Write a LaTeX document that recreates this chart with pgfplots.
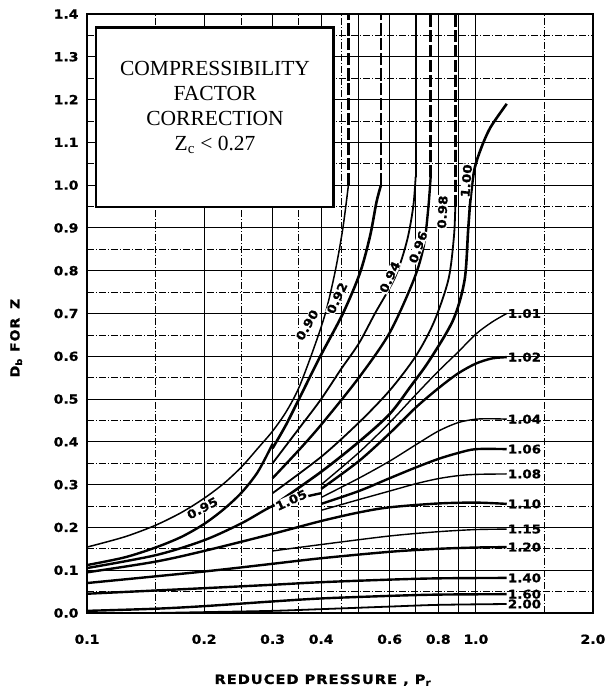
\documentclass[border=0pt]{standalone}
\usepackage{fontspec}
\setmainfont{Liberation Serif}
\newfontfamily\lab[FakeStretch=1.12, FakeBold=1]{DejaVu Sans Bold}
\usepackage{pgfplots}
\pgfplotsset{compat=1.18}
\begin{document}
\begin{tikzpicture}[x=1pt,y=1pt]
\begin{axis}[
  at={(87pt,77pt)}, anchor=south west,
  scale only axis, width=506pt, height=599pt,
  xmode=log, xmin=0.1, xmax=2.0, ymin=0, ymax=1.4,
  xtick={0.1,0.2,0.3,0.4,0.6,0.8,1.0,2.0},
  xticklabels={0.1,0.2,0.3,0.4,0.6,0.8,1.0,2.0},
  minor xtick={0.15,0.25,0.35,0.45,1.5},
  extra x ticks={0.5,0.7,0.9}, extra x tick labels={},
  extra x tick style={grid=major},
  ytick={0,0.1,0.2,0.3,0.4,0.5,0.6,0.7,0.8,0.9,1.0,1.1,1.2,1.3,1.4},
  yticklabels={0.0,0.1,0.2,0.3,0.4,0.5,0.6,0.7,0.8,0.9,1.0,1.1,1.2,1.3,1.4},
  minor ytick={0.05,0.15,0.25,0.35,0.45,0.55,0.65,0.75,0.85,0.95,1.05,1.15,1.25,1.35},
  grid=both,
  major grid style={black, line width=0.9pt},
  minor grid style={black, line width=0.7pt, dash pattern=on 7pt off 2pt on 1pt off 2pt},
  tick style={draw=none},
  axis line style={line width=2.6pt},
  /pgf/number format/assume math mode=true,
  ticklabel style={font=\lab\fontsize{12.5}{13}\selectfont},
  yticklabel style={xshift=-5pt},
  xticklabel style={yshift=-18pt},
  xlabel={REDUCED PRESSURE , P\textsubscript{r}},
  xlabel style={font=\lab\fontsize{13}{13}\selectfont\addfontfeature{LetterSpace=8}, at={(axis description cs:0.466,-0.112)}, anchor=center},
  ylabel={D\textsubscript{b}\hspace{0.5em}FOR\hspace{0.7em}Z},
  ylabel style={font=\lab\fontsize{12.5}{13}\selectfont\addfontfeature{LetterSpace=8}, at={(axis description cs:-0.140,0.459)}, anchor=center, rotate=0},
  every axis plot/.append style={black, smooth, tension=0.5},
]
% ---- low pressure region
\addplot[line width=1.5pt] coordinates {(0.10,0.154) (0.125,0.178) (0.15,0.205) (0.175,0.235) (0.20,0.268) (0.225,0.303) (0.25,0.342) (0.275,0.385) (0.30,0.425) (0.325,0.47) (0.35,0.525) (0.38,0.61) (0.41,0.70) (0.435,0.80) (0.455,0.90) (0.47,1.0)};
\addplot[line width=2.6pt, dash pattern=on 12pt off 3pt] coordinates {(0.47,1.0) (0.47,1.4)};
\addplot[line width=2.4pt] coordinates {(0.10,0.112) (0.125,0.13) (0.15,0.153) (0.175,0.178) (0.20,0.208) (0.225,0.243) (0.25,0.282) (0.275,0.33) (0.30,0.395)};
\addplot[line width=2.4pt] coordinates {(0.10,0.105) (0.15,0.135) (0.20,0.17) (0.25,0.21) (0.30,0.25) (0.35,0.268) (0.40,0.28)};
% ---- subcritical curves
\addplot[line width=2.6pt] coordinates {(0.30,0.385) (0.325,0.44) (0.353,0.505) (0.397,0.598) (0.455,0.70) (0.503,0.794) (0.534,0.88) (0.555,0.96) (0.57,1.0)};
\addplot[line width=2.6pt, dash pattern=on 12pt off 3pt] coordinates {(0.57,1.0) (0.57,1.4)};
\addplot[line width=1.8pt] coordinates {(0.30,0.35) (0.35,0.43) (0.40,0.50) (0.45,0.57) (0.50,0.63) (0.55,0.70) (0.62,0.785) (0.665,0.87) (0.69,0.95) (0.70,1.02)};
\addplot[line width=1.8pt] coordinates {(0.70,1.02) (0.70,1.4)};
\addplot[line width=2.4pt] coordinates {(0.30,0.315) (0.35,0.38) (0.40,0.44) (0.50,0.55) (0.60,0.655) (0.693,0.78) (0.735,0.86) (0.755,0.95) (0.765,1.02)};
\addplot[line width=2.6pt, dash pattern=on 12pt off 3pt] coordinates {(0.765,1.02) (0.765,1.4)};
\addplot[line width=1.8pt] coordinates {(0.30,0.28) (0.40,0.365) (0.50,0.445) (0.60,0.52) (0.70,0.60) (0.78,0.68) (0.85,0.78) (0.878,0.88) (0.885,0.95)};
\addplot[line width=2.6pt, dash pattern=on 12pt off 3pt] coordinates {(0.885,0.95) (0.885,1.4)};
\addplot[line width=2.6pt] coordinates {(0.30,0.25) (0.40,0.33) (0.50,0.40) (0.60,0.465) (0.68,0.53) (0.76,0.591) (0.874,0.685) (0.935,0.778) (0.955,0.895) (0.968,0.965) (0.99,1.035) (1.03,1.085) (1.09,1.135) (1.2,1.19)};
% ---- supercritical curves
\addplot[line width=1.4pt] coordinates {(0.40,0.30) (0.50,0.375) (0.60,0.445) (0.70,0.51) (0.80,0.565) (0.90,0.61) (1.0,0.652) (1.1,0.68) (1.2,0.70)};
\addplot[line width=2.4pt] coordinates {(0.40,0.29) (0.50,0.355) (0.60,0.42) (0.70,0.48) (0.80,0.525) (0.90,0.56) (1.0,0.583) (1.1,0.595) (1.2,0.598)};
\addplot[line width=1.4pt] coordinates {(0.40,0.27) (0.50,0.315) (0.60,0.355) (0.70,0.393) (0.80,0.425) (0.90,0.445) (1.0,0.453) (1.1,0.454) (1.2,0.453)};
\addplot[line width=2.4pt] coordinates {(0.40,0.255) (0.5,0.285) (0.6,0.315) (0.7,0.34) (0.8,0.36) (0.9,0.374) (1.0,0.383) (1.2,0.383)};
\addplot[line width=1.4pt] coordinates {(0.40,0.24) (0.5,0.265) (0.6,0.285) (0.7,0.302) (0.8,0.314) (0.9,0.321) (1.0,0.324) (1.2,0.325)};
\addplot[line width=2.4pt] coordinates {(0.1,0.095) (0.15,0.12) (0.2,0.145) (0.3,0.185) (0.4,0.215) (0.5,0.235) (0.6,0.247) (0.8,0.256) (1.0,0.258) (1.2,0.255)};
\addplot[line width=1.4pt] coordinates {(0.3,0.145) (0.4,0.16) (0.6,0.18) (0.8,0.19) (1.0,0.195) (1.2,0.196)};
\addplot[line width=2.4pt] coordinates {(0.1,0.07) (0.2,0.097) (0.3,0.115) (0.4,0.128) (0.6,0.143) (0.8,0.15) (1.0,0.153) (1.2,0.154)};
\addplot[line width=2.4pt] coordinates {(0.1,0.045) (0.2,0.058) (0.3,0.066) (0.4,0.072) (0.6,0.078) (0.8,0.081) (1.2,0.082)};
\addplot[line width=2.4pt] coordinates {(0.1,0.005) (0.15,0.01) (0.2,0.016) (0.3,0.027) (0.4,0.034) (0.6,0.04) (0.8,0.043) (1.2,0.044)};
\addplot[line width=1.8pt] coordinates {(0.15,0.0) (0.2,0.002) (0.3,0.005) (0.4,0.009) (0.6,0.015) (0.8,0.019) (1.2,0.021)};
% ---- right-hand labels
\begin{scope}[every node/.style={anchor=west, inner sep=1pt, font=\lab\fontsize{12}{12}\selectfont}]
\node at (axis cs:1.2,0.70) {1.01};
\node at (axis cs:1.2,0.598) {1.02};
\node at (axis cs:1.2,0.453) {1.04};
\node at (axis cs:1.2,0.383) {1.06};
\node at (axis cs:1.2,0.325) {1.08};
\node at (axis cs:1.2,0.255) {1.10};
\node at (axis cs:1.2,0.196) {1.15};
\node at (axis cs:1.2,0.154) {1.20};
\node at (axis cs:1.2,0.082) {1.40};
\node at (axis cs:1.2,0.044) {1.60};
\node at (axis cs:1.2,0.021) {2.00};
\end{scope}
% ---- in-curve labels
\begin{scope}[every node/.style={fill=white, inner sep=0.5pt, font=\lab\fontsize{12}{12}\selectfont}]
\node[rotate=60] at (axis cs:0.368,0.673) {0.90};
\node[rotate=65] at (axis cs:0.439,0.736) {0.92};
\node[rotate=65] at (axis cs:0.60,0.785) {0.94};
\node[rotate=70] at (axis cs:0.71,0.855) {0.96};
\node[rotate=87] at (axis cs:0.82,0.937) {0.98};
\node[rotate=85] at (axis cs:0.945,1.01) {1.00};
\node[rotate=28] at (axis cs:0.198,0.245) {0.95};
\node[rotate=25] at (axis cs:0.335,0.264) {1.05};
\end{scope}
% ---- title box
\draw[line width=2.8pt, fill=white] (axis cs:0.1055,0.949) rectangle (axis cs:0.431,1.369);
\node[align=center, font=\fontsize{21.5}{25}\selectfont] at (axis cs:0.2134,1.182) {COMPRESSIBILITY\\FACTOR\\CORRECTION\\Z\textsubscript{c} {\textless} 0.27};
\end{axis}
\pgfresetboundingbox
\path[use as bounding box] (0,0) rectangle (607pt,690pt);
\end{tikzpicture}
\end{document}
